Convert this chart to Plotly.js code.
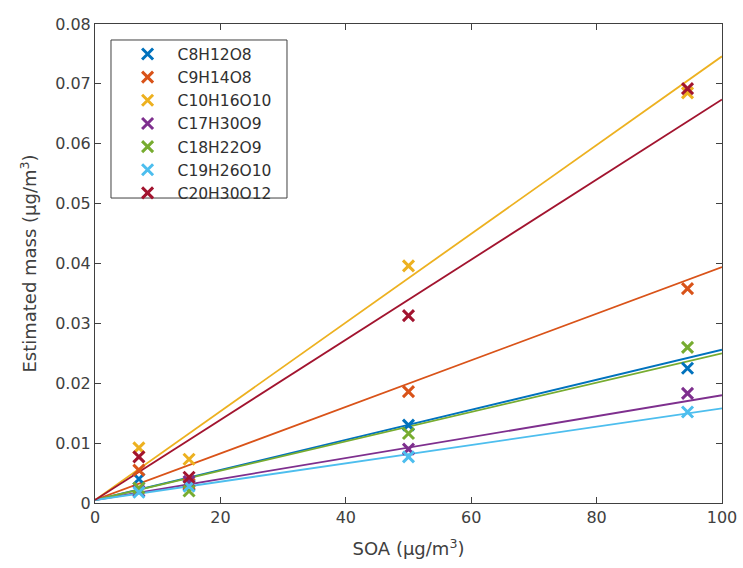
<!DOCTYPE html>
<html><head><meta charset="utf-8">
<script src="https://cdn.plot.ly/plotly-3.0.1.min.js"></script>
<style>html,body{margin:0;padding:0;background:#fff}</style>
</head><body><div id="chart" style="width:743px;height:568px"></div>
<script>
const names = ["C8H12O8","C9H14O8","C10H16O10","C17H30O9","C18H22O9","C19H26O10","C20H30O12"];
const colors = ["#0072BD","#D95319","#EDB120","#7E2F8E","#77AC30","#4DBEEE","#A2142F"];
const soa = [7, 15, 50, 94.5];
const mass_C8H12O8   = [0.0040, 0.0030, 0.0130, 0.0225];
const mass_C9H14O8   = [0.0055, 0.0032, 0.0186, 0.0358];
const mass_C10H16O10 = [0.0092, 0.0073, 0.0396, 0.0685];
const mass_C17H30O9  = [0.0020, 0.0036, 0.0090, 0.0183];
const mass_C18H22O9  = [0.0025, 0.0020, 0.0116, 0.0260];
const mass_C19H26O10 = [0.0018, 0.0028, 0.0077, 0.0152];
const mass_C20H30O12 = [0.0077, 0.0043, 0.0313, 0.0692];
const masses = [mass_C8H12O8, mass_C9H14O8, mass_C10H16O10, mass_C17H30O9, mass_C18H22O9, mass_C19H26O10, mass_C20H30O12];
// fitted lines: value at SOA=0 and SOA=100
const fitX = [0, 100];
const fitStart = [0.0005, 0.0005, 0.0005, 0.0005, 0.0005, 0.0005, 0.0005];
const fitEnd   = [0.0256, 0.0394, 0.0746, 0.0180, 0.0250, 0.0158, 0.0674];

const traces = [];
names.forEach((n,i)=>{
  traces.push({x: fitX, y:[fitStart[i], fitEnd[i]], mode:'lines', line:{color:colors[i], width:1.8}, showlegend:false, hoverinfo:'skip'});
});
names.forEach((n,i)=>{
  traces.push({x: soa, y: masses[i], name:n, mode:'markers', cliponaxis:false,
    marker:{symbol:'x-thin', size:11, color:colors[i], line:{color:colors[i], width:3}}});
});
const axCol = '#404040';
const layout = {
  width:743, height:568,
  margin:{l:95, r:21, t:24, b:65},
  paper_bgcolor:'#fff', plot_bgcolor:'#fff',
  font:{family:'DejaVu Sans, sans-serif', size:16, color:'#404040'},
  xaxis:{range:[0,100], tickvals:[0,20,40,60,80,100], ticks:'inside', ticklen:6, tickcolor:axCol,
    showline:true, linecolor:axCol, linewidth:1, mirror:'ticks', showgrid:false, zeroline:false,
    tickfont:{size:16, color:'#404040'},
    title:{text:'SOA (μg/m<sup>3</sup>)', font:{size:18, color:'#404040'}, standoff:16}},
  yaxis:{range:[0,0.08], tickvals:[0,0.01,0.02,0.03,0.04,0.05,0.06,0.07,0.08],
    ticktext:['0','0.01','0.02','0.03','0.04','0.05','0.06','0.07','0.08'],
    ticks:'inside', ticklen:6, tickcolor:axCol,
    showline:true, linecolor:axCol, linewidth:1, mirror:'ticks', showgrid:false, zeroline:false,
    tickfont:{size:16, color:'#404040'},
    title:{text:'Estimated mass (μg/m<sup>3</sup>)', font:{size:18, color:'#404040'}, standoff:13}},
  legend:{x:0.036, y:0.972, xanchor:'left', yanchor:'top', bgcolor:'rgba(0,0,0,0)', borderwidth:0,
    font:{size:15.5, color:'#303030'}, tracegroupgap:0, itemwidth:50},
  shapes:[{type:'rect', xref:'paper', yref:'paper', x0:0.0255, x1:0.3062, y0:0.6367, y1:0.9666,
    line:{color:'#404040', width:1}, fillcolor:'#fff', layer:'below'}],
  showlegend:true
};
Plotly.newPlot('chart', traces, layout, {staticPlot:true, displayModeBar:false});
</script></body></html>
